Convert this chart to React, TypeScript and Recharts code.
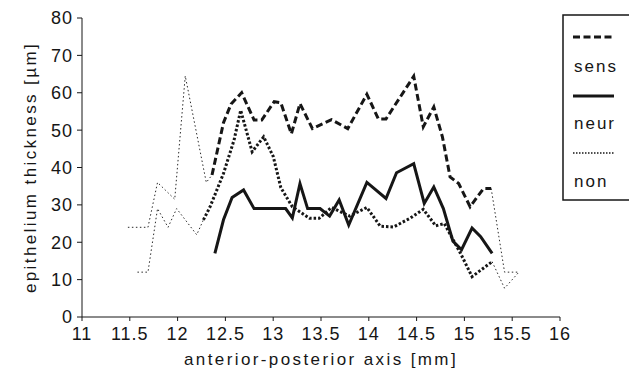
import { CartesianGrid, Line, LineChart, XAxis, YAxis } from "recharts";

// anterior-posterior position [mm] and epithelium thickness [µm]
const sensX = [12.36, 12.48, 12.56, 12.67, 12.8, 12.88, 13.01, 13.08, 13.19, 13.28, 13.41, 13.61, 13.78, 13.98, 14.1, 14.18, 14.47, 14.57, 14.68, 14.77, 14.85, 14.94, 15.06, 15.2, 15.28];
const sensY = [38, 52, 57, 60, 52.7, 52.7, 57.6, 57.3, 49, 57.1, 50.4, 52.8, 50.4, 59.6, 53, 53, 64.4, 50.9, 56.2, 48.2, 37.5, 35.7, 29.5, 34.4, 34.4];

const neurX = [12.39, 12.48, 12.57, 12.69, 12.8, 13.13, 13.2, 13.28, 13.36, 13.49, 13.59, 13.69, 13.79, 13.98, 14.18, 14.29, 14.47, 14.58, 14.68, 14.78, 14.88, 14.97, 15.08, 15.17, 15.29];
const neurY = [17, 26, 32, 34, 29, 29, 26.5, 35.7, 29, 29, 27, 31.3, 24.6, 36, 31.7, 38.6, 41, 30.4, 34.8, 29, 20.3, 18, 23.8, 21.5, 17];

const nonX = [12.27, 12.34, 12.48, 12.59, 12.66, 12.78, 12.9, 13.0, 13.08, 13.2, 13.38, 13.48, 13.61, 13.8, 13.98, 14.12, 14.26, 14.43, 14.57, 14.7, 14.79, 14.96, 15.08, 15.29];
const nonY = [26, 29.5, 38.4, 47.3, 55.3, 44.2, 48.2, 43, 34.6, 29.5, 26.4, 26.4, 29.3, 27, 29.3, 24.3, 24.1, 26.4, 28.8, 24.4, 25, 17, 10.8, 14.8];

// sparse ends of the curves, drawn thin
const sensHeadX = [11.48, 11.69, 11.79, 11.97, 12.08, 12.3, 12.36];
const sensHeadY = [24, 24, 36, 31.5, 64.5, 36, 38];
const sensTailX = [15.28, 15.42, 15.57];
const sensTailY = [34.4, 12, 12];
const nonHeadX = [11.58, 11.69, 11.79, 11.9, 11.99, 12.2, 12.27];
const nonHeadY = [12, 12, 29, 24, 29, 22, 26];
const nonTailX = [15.29, 15.42, 15.57];
const nonTailY = [14.8, 7.7, 12];

const xTicks = [11, 11.5, 12, 12.5, 13, 13.5, 14, 14.5, 15, 15.5, 16];
const yTicks = [0, 10, 20, 30, 40, 50, 60, 70, 80];

const zip = (xs: number[], ys: number[]) => xs.map((x, i) => ({ x, y: ys[i] }));

const INK = "#161616";
const FONT = "'Liberation Sans', Arial, sans-serif";
const tickStyle = { fontSize: 18, fontFamily: FONT, fill: INK, letterSpacing: 1 };

function LegendBox() {
  const txt = { fontSize: 17, fontFamily: FONT, fill: INK, letterSpacing: 2 };
  return (
    <svg width={80} height={190} style={{ position: "absolute", left: 562, top: 14 }}>
      <rect x={1} y={1} width={90} height={185} fill="#fff" stroke={INK} strokeWidth={1.5} />
      <line x1={11} x2={52} y1={23} y2={23} stroke={INK} strokeWidth={3} strokeDasharray="7 3.5" />
      <text x={12} y={58} {...txt}>sens</text>
      <line x1={11} x2={52} y1={82} y2={82} stroke={INK} strokeWidth={3} />
      <text x={12} y={115} {...txt}>neur</text>
      <line x1={11} x2={52} y1={139} y2={139} stroke={INK} strokeWidth={1.5} strokeDasharray="1.5 1.5" />
      <text x={12} y={173} {...txt}>non</text>
    </svg>
  );
}

export default function App() {
  return (
    <div style={{ position: "absolute", left: 0, top: 0, width: 629, height: 374, background: "#fff", overflow: "hidden" }}>
      <LineChart width={629} height={374} margin={{ top: 18, right: 69, bottom: 7, left: 20 }}>
        <CartesianGrid vertical={false} horizontal={false} />
        <XAxis
          type="number"
          dataKey="x"
          domain={[11, 16]}
          ticks={xTicks}
          interval={0}
          height={50}
          tickSize={4}
          tickMargin={6}
          stroke={INK}
          tick={tickStyle}
          tickLine={{ stroke: INK }}
          allowDataOverflow
          label={{
            value: "anterior-posterior axis [mm]",
            position: "insideBottom",
            offset: 2,
            style: { fontSize: 17, fontFamily: FONT, fill: INK, letterSpacing: 2.4 },
          }}
        />
        <YAxis
          type="number"
          dataKey="y"
          domain={[0, 80]}
          ticks={yTicks}
          interval={0}
          width={62}
          tickSize={5}
          tickMargin={4}
          stroke={INK}
          tick={tickStyle}
          tickLine={{ stroke: INK }}
          label={{
            value: "epithelium thickness [µm]",
            angle: -90,
            position: "insideLeft",
            offset: 10,
            style: { fontSize: 17, fontFamily: FONT, fill: INK, letterSpacing: 2.4, textAnchor: "middle" },
          }}
        />
        <Line data={zip(sensHeadX, sensHeadY)} dataKey="y" type="linear" stroke="#2a2a2a" strokeWidth={1} strokeDasharray="1.5 2.5" dot={false} isAnimationActive={false} />
        <Line data={zip(sensTailX, sensTailY)} dataKey="y" type="linear" stroke="#2a2a2a" strokeWidth={1} strokeDasharray="1.5 2.5" dot={false} isAnimationActive={false} />
        <Line data={zip(nonHeadX, nonHeadY)} dataKey="y" type="linear" stroke="#2a2a2a" strokeWidth={1} strokeDasharray="1.5 2.5" dot={false} isAnimationActive={false} />
        <Line data={zip(nonTailX, nonTailY)} dataKey="y" type="linear" stroke="#2a2a2a" strokeWidth={1} strokeDasharray="1.5 2.5" dot={false} isAnimationActive={false} />
        <Line data={zip(nonX, nonY)} dataKey="y" name="non" type="linear" stroke={INK} strokeWidth={3} strokeDasharray="2.5 2" dot={false} isAnimationActive={false} />
        <Line data={zip(neurX, neurY)} dataKey="y" name="neur" type="linear" stroke={INK} strokeWidth={3} dot={false} isAnimationActive={false} />
        <Line data={zip(sensX, sensY)} dataKey="y" name="sens" type="linear" stroke={INK} strokeWidth={3} strokeDasharray="7 3.5" dot={false} isAnimationActive={false} />
      </LineChart>
      <LegendBox />
    </div>
  );
}
